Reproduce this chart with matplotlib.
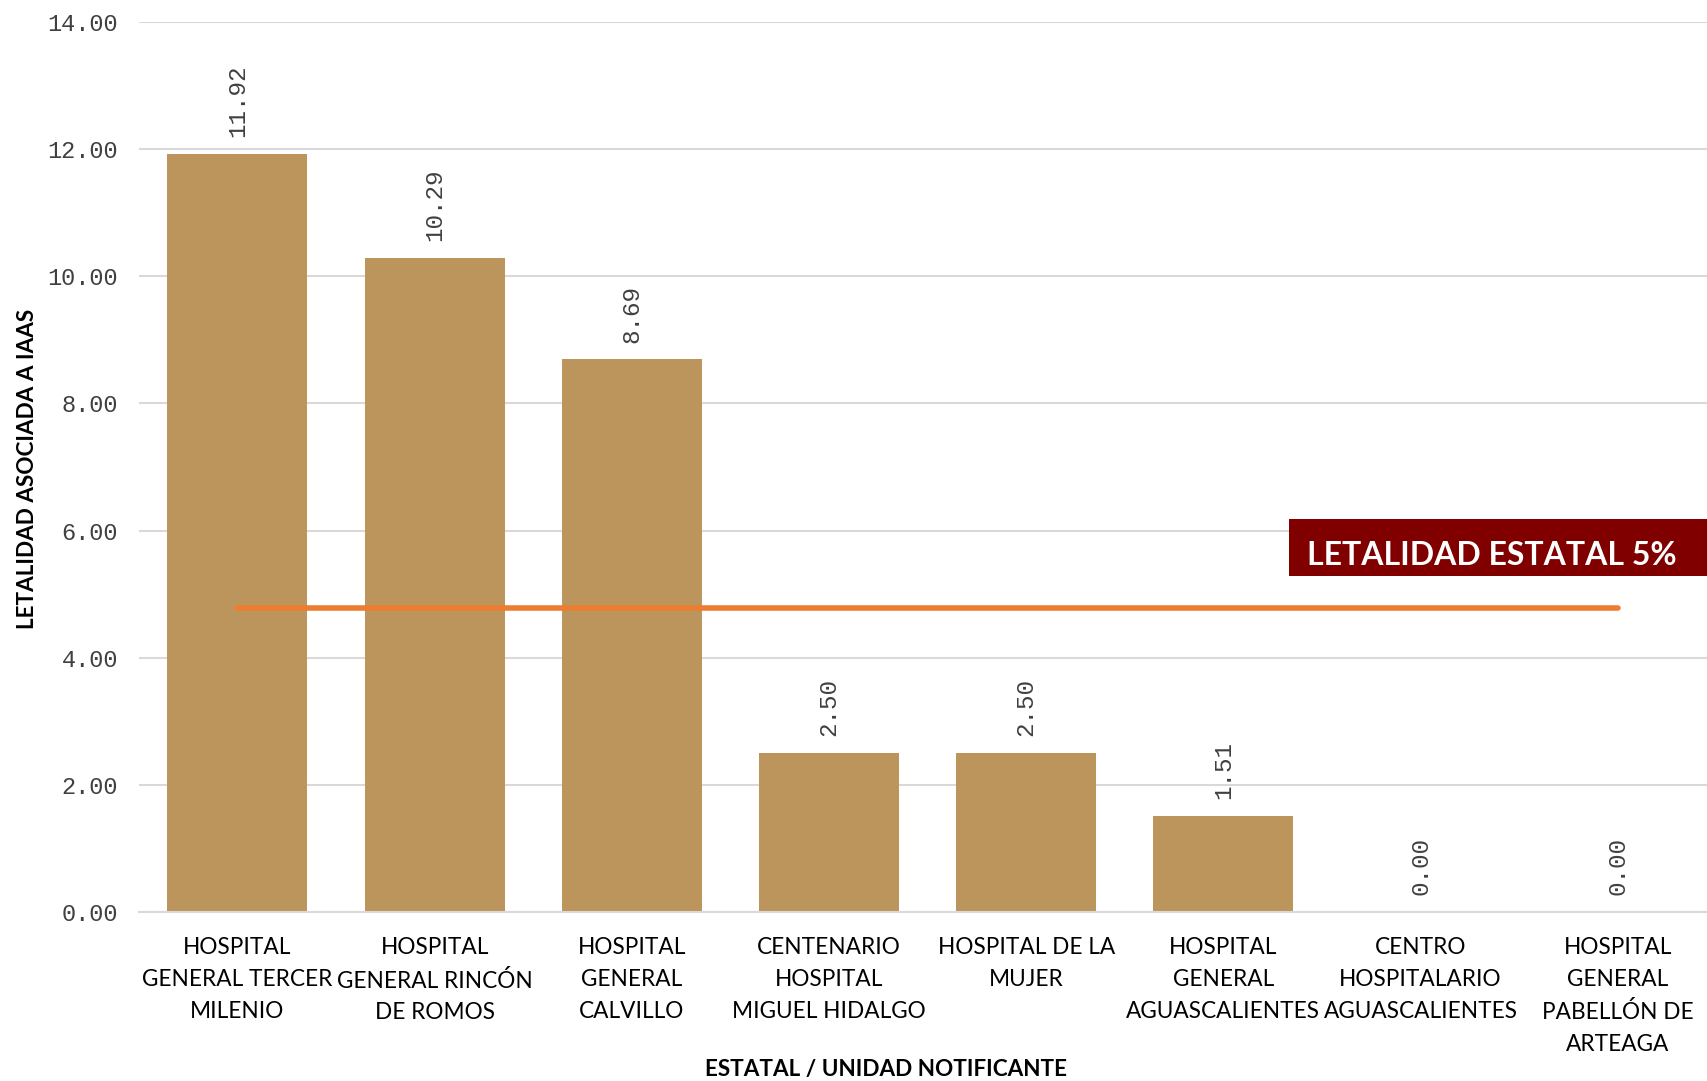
import matplotlib.pyplot as plt
import matplotlib.ticker as mticker
import numpy as np

# Data
hospitales = [
    "HOSPITAL\nGENERAL TERCER\nMILENIO",
    "HOSPITAL\nGENERAL RINCÓN\nDE ROMOS",
    "HOSPITAL\nGENERAL\nCALVILLO",
    "CENTENARIO\nHOSPITAL\nMIGUEL HIDALGO",
    "HOSPITAL DE LA\nMUJER",
    "HOSPITAL\nGENERAL\nAGUASCALIENTES",
    "CENTRO\nHOSPITALARIO\nAGUASCALIENTES",
    "HOSPITAL\nGENERAL\nPABELLÓN DE\nARTEAGA",
]
letalidad = [11.92, 10.29, 8.69, 2.50, 2.50, 1.51, 0.00, 0.00]
letalidad_estatal = 4.78
etiqueta_estatal = "LETALIDAD ESTATAL 5%"

bar_color = '#BC955C'
line_color = '#ED7D31'
box_color = '#800000'
text_font = ['Lato', 'DejaVu Sans']
mono_font = ['Liberation Mono', 'DejaVu Sans Mono']

fig = plt.figure(figsize=(17.08, 10.81), dpi=100)
ax = fig.add_axes([0.0813, 0.1563, 0.9236, 0.8235])

x = np.arange(len(hospitales))
ax.bar(x, letalidad, width=0.71, color=bar_color, zorder=2)

# value labels, rotated like the original
for xi, val in zip(x, letalidad):
    ax.annotate(f"{val:.2f}", (xi, val), xytext=(0, 12), textcoords='offset points',
                rotation=90, ha='center', va='bottom', fontsize=17.5,
                family=mono_font, color='#404040')

# state lethality line from first to last category
ax.plot([x[0], x[-1]], [letalidad_estatal, letalidad_estatal], color=line_color,
        linewidth=4, solid_capstyle='round', zorder=3)

ax.set_xlim(-0.5, len(hospitales) - 0.5)
ax.set_ylim(0, 14)
ax.yaxis.set_major_locator(mticker.MultipleLocator(2))
ax.yaxis.set_major_formatter(mticker.FormatStrFormatter('%.2f'))
ax.grid(axis='y', color='#d9d9d9', linewidth=1.5, zorder=0)
ax.set_axisbelow(True)

for side in ['top', 'right', 'left']:
    ax.spines[side].set_visible(False)
ax.spines['bottom'].set_color('#d9d9d9')
ax.spines['bottom'].set_linewidth(1.5)

ax.tick_params(axis='y', length=0, pad=15, labelsize=17, labelcolor='#404040')
ax.tick_params(axis='x', length=0, pad=18)
for lbl in ax.get_yticklabels():
    lbl.set_family(mono_font)

ax.set_xticks(x)
ax.set_xticklabels(hospitales, fontsize=16.3, family=text_font, linespacing=1.64)

fig.text(0.016, 0.566, "LETALIDAD ASOCIADA A IAAS", rotation=90, ha='center', va='center',
         fontsize=16.2, fontweight='bold', family=text_font)
fig.text(0.519, 0.0102, "ESTATAL / UNIDAD NOTIFICANTE", ha='center', va='center',
         fontsize=16.2, fontweight='bold', family=text_font)

# legend-like label box
fig.patches.append(plt.Rectangle((0.7545, 0.4675), 0.2455, 0.052, transform=fig.transFigure,
                                 facecolor=box_color, edgecolor='none', zorder=5))
fig.text(0.8734, 0.4773, etiqueta_estatal, ha='center', va='baseline', color='white',
         fontsize=23, fontweight='bold', family=text_font, zorder=6)

fig.savefig('out.png', dpi=100)
